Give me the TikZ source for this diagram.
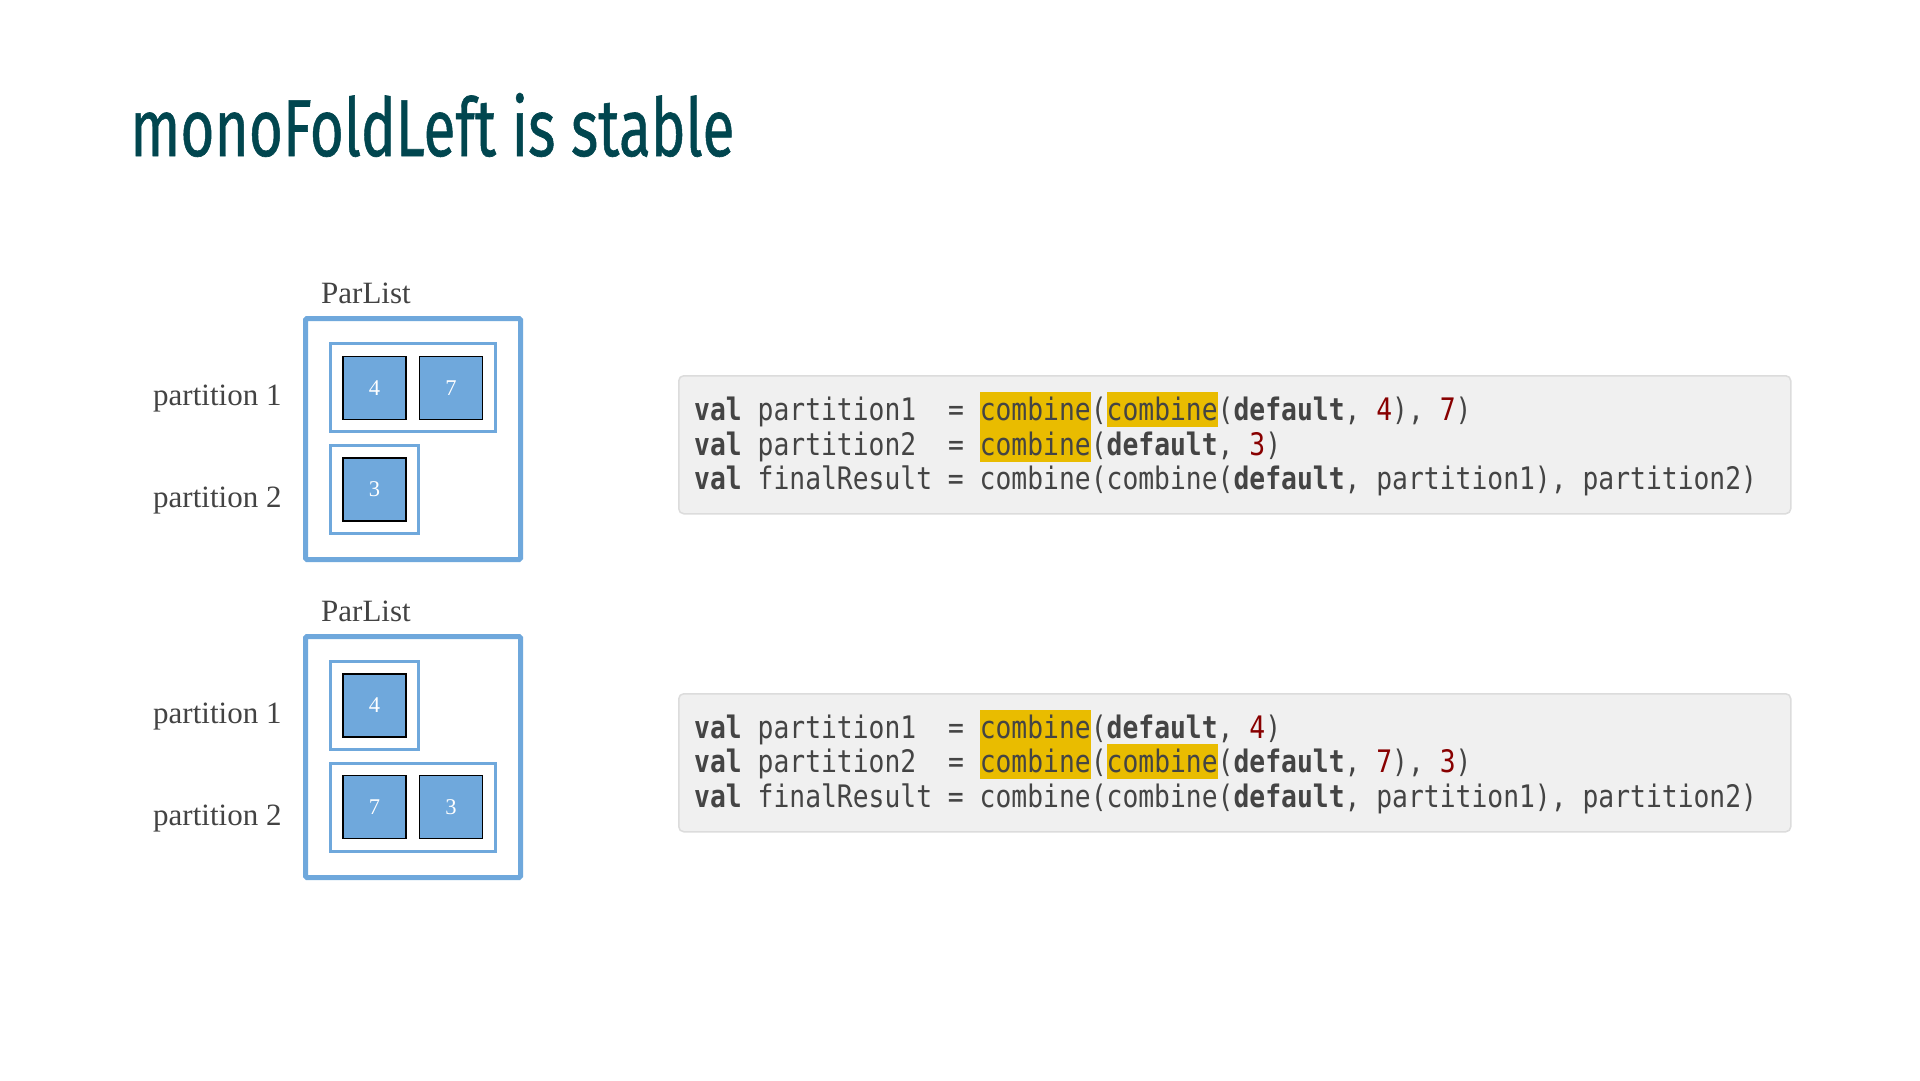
\documentclass[tikz,border=0pt]{standalone}
\usepackage{fontspec}
\usepackage{graphicx}
\setmainfont{Liberation Serif}
\newfontfamily\titlefont{Fira Sans}[FakeBold=0.8]
\newfontfamily\codefont{DejaVu Sans Mono}[FakeStretch=0.85]
\definecolor{titlecol}{HTML}{01464F}
\definecolor{pblue}{HTML}{6FA8DC}
\definecolor{txtgray}{HTML}{434343}
\definecolor{codebg}{HTML}{F0F0F0}
\definecolor{codeborder}{HTML}{DCDCDC}
\definecolor{codetxt}{HTML}{444444}
\definecolor{codenum}{HTML}{880000}
\definecolor{hl}{HTML}{E9BC00}
\newcommand\hlw[1]{{\setlength\fboxsep{0pt}\colorbox{hl}{\rule[-7pt]{0pt}{35pt}#1}}}
\newcommand\kw[1]{{\bfseries #1}}
\newcommand\num[1]{\textcolor{codenum}{#1}}
\tikzset{
  outerbox/.style={draw=pblue, fill=white, line width=5pt, rounded corners=1.5pt, inner sep=0pt, minimum width=215pt, minimum height=241pt},
  partbox/.style={draw=pblue, fill=white, line width=3pt, inner sep=0pt, minimum height=88pt},
  elem/.style={draw=black, line width=1.5pt, fill=pblue, text=white, inner sep=0pt, minimum width=63pt, minimum height=63pt, font=\fontsize{22.5}{26}\selectfont},
  lbl/.style={anchor=base west, inner sep=0pt, text=txtgray, font=\fontsize{31}{36}\selectfont},
  codebox/.style={draw=codeborder, fill=codebg, line width=1.5pt, rounded corners=5pt, inner sep=0pt, anchor=north west, minimum width=1112pt, minimum height=138pt},
  codeline/.style={anchor=base west, inner sep=0pt, text=codetxt, font=\codefont\fontsize{31}{35}\selectfont},
}
\begin{document}
\begin{tikzpicture}[x=1pt, y=-1pt]
\useasboundingbox (0,0) rectangle (1920,1080);
\fill[white] (0,0) rectangle (1920,1080);

% title
\node[anchor=base west, inner sep=0pt, text=titlecol] (title) at (130,156)
  {\resizebox{604pt}{63pt}{\titlefont monoFoldLeft is stable}};

% ---------- diagram 1 ----------
\node[lbl] (pl1) at (321,303) {ParList};
\node[outerbox] (outer1) at (413,439) {};
\node[partbox, minimum width=165pt] (p11) at (413,387.5) {};
\node[partbox, minimum width=88pt] (p12) at (374.5,489.5) {};
\node[elem] (e114) at (374.5,388) {4};
\node[elem] (e117) at (451,388) {7};
\node[elem] (e123) at (374.5,489.5) {3};
\node[lbl] (l11) at (153,405) {partition 1};
\node[lbl] (l12) at (153,507) {partition 2};

% ---------- diagram 2 ----------
\node[lbl] (pl2) at (321,621) {ParList};
\node[outerbox] (outer2) at (413,757) {};
\node[partbox, minimum width=88pt] (p21) at (374.5,705.5) {};
\node[partbox, minimum width=165pt] (p22) at (413,807.5) {};
\node[elem] (e214) at (374.5,705.5) {4};
\node[elem] (e227) at (374.5,807) {7};
\node[elem] (e223) at (451,807) {3};
\node[lbl] (l21) at (153,723) {partition 1};
\node[lbl] (l22) at (153,825) {partition 2};

% ---------- code block 1 ----------
\node[codebox] (code1) at (678,375) {};
\node[codeline] (c1a) at (694,420) {\kw{val} partition1\ \ = \hlw{combine}(\hlw{combine}(\kw{default}, \num{4}), \num{7})};
\node[codeline] (c1b) at (694,455) {\kw{val} partition2\ \ = \hlw{combine}(\kw{default}, \num{3})};
\node[codeline] (c1c) at (694,489) {\kw{val} finalResult = combine(combine(\kw{default}, partition1), partition2)};

% ---------- code block 2 ----------
\node[codebox] (code2) at (678,693) {};
\node[codeline] (c2a) at (694,738) {\kw{val} partition1\ \ = \hlw{combine}(\kw{default}, \num{4})};
\node[codeline] (c2b) at (694,772) {\kw{val} partition2\ \ = \hlw{combine}(\hlw{combine}(\kw{default}, \num{7}), \num{3})};
\node[codeline] (c2c) at (694,807) {\kw{val} finalResult = combine(combine(\kw{default}, partition1), partition2)};
\end{tikzpicture}
\end{document}
